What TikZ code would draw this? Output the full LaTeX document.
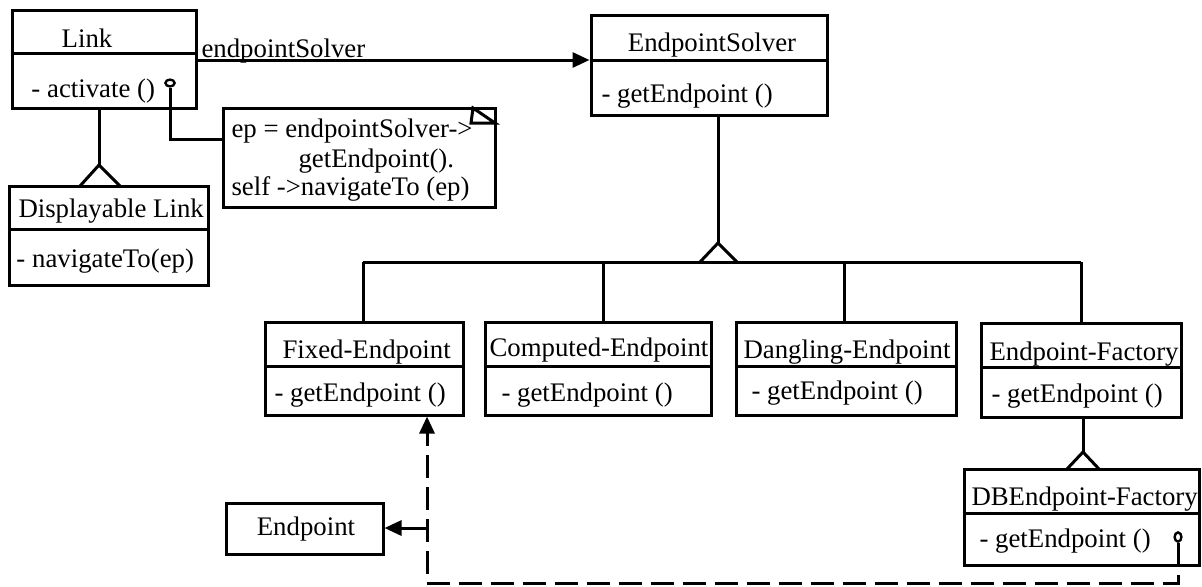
\documentclass[tikz,border=0pt]{standalone}
\usepackage{fontspec}
\setmainfont{Liberation Serif}
\usetikzlibrary{arrows.meta,calc,shapes.geometric}
\newcommand\umlbox[5]{\node[box, minimum width={(#4-#2)*0.5pt}, minimum height={(#5-#3)*0.5pt}] (#1) at ({(#2+#4)/2},{(#3+#5)/2}) {};}
\newcommand\umldiv[2]{\draw (#1.west |- 0,#2) -- (#1.east |- 0,#2);}
\begin{document}
\begin{tikzpicture}[x=0.5pt,y=-0.5pt, line width=1.5pt,
  box/.style={draw, rectangle, inner sep=0pt},
  txt/.style={inner sep=0pt, anchor=base west, font=\fontsize{13.4}{16}\selectfont},
  arr/.style={-{Triangle[length=8.5pt,width=7.5pt]}},
  dsh/.style={dash pattern=on 11.5pt off 4.5pt},
  knob/.style={draw, ellipse, inner sep=0pt, line width=1.2pt}]
\useasboundingbox (0,0) rectangle (1202,586);

% Link
\umlbox{link}{12}{10}{196}{108}
\umldiv{link}{53}
\node[txt, anchor=base] (linkt) at (87,47) {Link};
\node[txt] (linko) at (30,97) {- activate ()};
\node[knob, minimum width=4.6pt, minimum height=3.4pt] (k1) at (170,83) {};

% Displayable Link
\umlbox{disp}{9}{186}{208}{285}
\umldiv{disp}{229}
\node[txt] (dispt) at (17,217) {Displayable Link};
\node[txt] (dispo) at (15,267) {- navigateTo(ep)};

% Note
\umlbox{note}{223}{108}{495}{207}
\draw (473,108) -- (471,123) -- (495,123) -- cycle;
\node[txt] (n1) at (230,137) {ep = endpointSolver->};
\node[txt] (n2) at (297,167) {getEndpoint().};
\node[txt] (n3) at (230,195) {self ->navigateTo (ep)};

% EndpointSolver
\umlbox{solver}{591}{15}{827}{115}
\umldiv{solver}{60}
\node[txt, anchor=base] (solvert) at (712,51) {EndpointSolver};
\node[txt] (solvero) at (600,102) {- getEndpoint ()};

% Subclasses
\umlbox{fixed}{265}{322}{463}{415}
\umldiv{fixed}{366}
\node[txt] (fixedt) at (281,358) {Fixed-Endpoint};
\node[txt] (fixedo) at (273,401) {- getEndpoint ()};

\umlbox{comp}{485}{322}{711}{415}
\umldiv{comp}{366}
\node[txt] (compt) at (488,356) {Computed-Endpoint};
\node[txt] (compo) at (500,401) {- getEndpoint ()};

\umlbox{dang}{736}{322}{956}{415}
\umldiv{dang}{366}
\node[txt] (dangt) at (742,358) {Dangling-Endpoint};
\node[txt] (dango) at (750,399) {- getEndpoint ()};

\umlbox{fact}{981}{323}{1181}{417}
\umldiv{fact}{367}
\node[txt] (factt) at (988,360) {Endpoint-Factory};
\node[txt] (facto) at (990,402) {- getEndpoint ()};

\umlbox{db}{964}{469}{1199}{565}
\umldiv{db}{513}
\node[txt] (dbt) at (970,505) {DBEndpoint-Factory};
\node[txt] (dbo) at (978,547) {- getEndpoint ()};
\node[knob, minimum width=3.4pt, minimum height=4.6pt] (k2) at (1178,537) {};

% Endpoint
\umlbox{endp}{226}{503}{383}{554}
\node[txt, anchor=base] (endpt) at (306,535) {Endpoint};

% association
\draw[arr] (link.east |- 0,60) -- (solver.west |- 0,60);
\node[txt] (assoc) at (200,57) {endpointSolver};

% note link
\coordinate (nk) at (170,139);
\draw (k1.south) -- (nk) -- (note.west |- nk);

% generalization Link -> Displayable Link
\coordinate (g1) at (99,165);
\draw (link.south -| g1) -- (g1);
\draw (80,186) -- (g1) -- (120,186);

% generalization EndpointSolver -> subclasses
\coordinate (g2) at (718,243);
\draw (solver.south -| g2) -- (g2);
\draw (700,262) -- (g2) -- (737,262);
\coordinate (b1) at (363,262);
\coordinate (b2) at (603,262);
\coordinate (b3) at (844,262);
\coordinate (b4) at (1081,262);
\draw (b1) -- (b4);
\draw (b1) -- (b1 |- fixed.north);
\draw (b2) -- (b2 |- comp.north);
\draw (b3) -- (b3 |- dang.north);
\draw (b4) -- (b4 |- fact.north);

% generalization Factory -> DB
\coordinate (g3) at (1083,452);
\draw (fact.south -| g3) -- (g3);
\draw (1067,469) -- (g3) -- (1099,469);

% dashed dependency
\coordinate (dc) at (427,583);
\draw[dsh, arr] (k2.south) -- (k2.south |- dc) -- (dc) -- (dc |- fixed.south);
\coordinate (ep) at (427,528);
\draw[arr] (ep) -- (ep -| endp.east);
\end{tikzpicture}
\end{document}
